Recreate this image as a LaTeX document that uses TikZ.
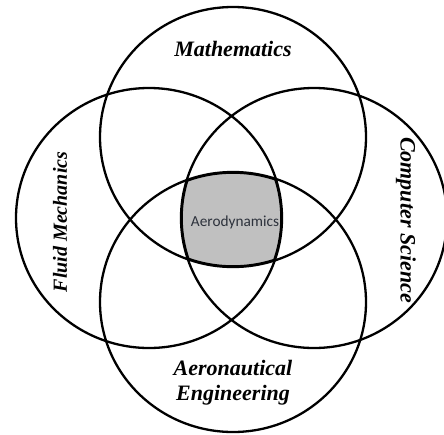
\documentclass[tikz,border=0pt]{standalone}
\usepackage{fontspec}
\setmainfont{Liberation Serif}
\newfontfamily\calib{Carlito}
\definecolor{regiongray}{RGB}{192,192,192}
\definecolor{aerotext}{RGB}{45,50,60}
\tikzset{
  ring/.style={draw=black, line width=2.3pt},
  core/.style={draw=black, line width=3.6pt},
  field/.style={font=\fontsize{22}{24}\selectfont\bfseries\itshape, align=center, inner sep=0pt},
  centre/.style={font=\calib\fontsize{15.3}{17}\selectfont, text=aerotext, inner sep=0pt}
}
\begin{document}
\begin{tikzpicture}[x=1pt,y=-1pt]
\useasboundingbox (0,0) rectangle (444,434);
% circle centres
\def\rx{133}\def\ry{130}
\coordinate (ct) at (233,137);
\coordinate (cb) at (233,302);
\coordinate (cl) at (149,218);
\coordinate (cr) at (314,218);
% gray intersection
\begin{scope}
  \clip (ct) ellipse [x radius=\rx, y radius=\ry];
  \clip (cb) ellipse [x radius=\rx, y radius=\ry];
  \clip (cl) ellipse [x radius=\rx, y radius=\ry];
  \clip (cr) ellipse [x radius=\rx, y radius=\ry];
  \fill[regiongray] (0,0) rectangle (444,434);
  \draw[core] (ct) ellipse [x radius=\rx, y radius=\ry];
  \draw[core] (cb) ellipse [x radius=\rx, y radius=\ry];
  \draw[core] (cl) ellipse [x radius=\rx, y radius=\ry];
  \draw[core] (cr) ellipse [x radius=\rx, y radius=\ry];
\end{scope}
% circles
\draw[ring] (ct) ellipse [x radius=\rx, y radius=\ry];
\draw[ring] (cb) ellipse [x radius=\rx, y radius=\ry];
\draw[ring] (cl) ellipse [x radius=\rx, y radius=\ry];
\draw[ring] (cr) ellipse [x radius=\rx, y radius=\ry];
% labels
\node[field] (math) at (233,49) {Mathematics};
\node[field, font=\fontsize{20}{22}\selectfont\bfseries\itshape, rotate=90] (fluid) at (60,222) {Fluid Mechanics};
\node[field, rotate=-90] (comp) at (406,220) {Computer Science};
\node[field] (aero) at (233,368) {Aeronautical};
\node[field] (eng) at (233,395) {Engineering};
\node[centre] (aerod) at (235,222) {Aerodynamics};
\end{tikzpicture}
\end{document}
